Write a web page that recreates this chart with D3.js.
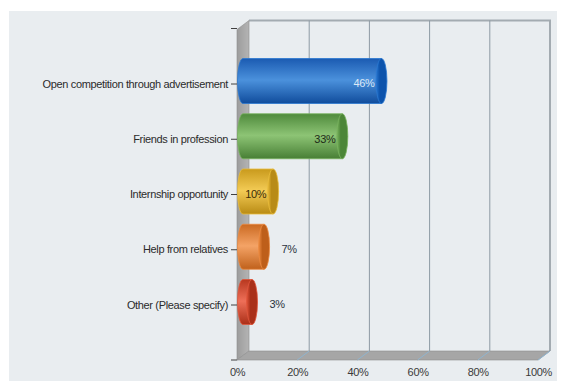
<!DOCTYPE html>
<html>
<head>
<meta charset="utf-8">
<script src="https://cdn.jsdelivr.net/npm/d3@7"></script>
<style>
  html, body { margin: 0; padding: 0; background: #ffffff; }
  svg { display: block; }
  text { font-family: "Liberation Sans", Arial, sans-serif; }
</style>
</head>
<body>
<svg id="chart" width="561" height="381"></svg>
<script>
// Survey answers: how respondents found their position
const categories = [
  "Open competition through advertisement",
  "Friends in profession",
  "Internship opportunity",
  "Help from relatives",
  "Other (Please specify)"
];
const percents = [46, 33, 10, 7, 3];
const tickValues = [0, 20, 40, 60, 80, 100];
const tickLabels = ["0%", "20%", "40%", "60%", "80%", "100%"];

// Cylinder palettes: edge dark, highlight, bottom dark, cap, rim, label colour
const palettes = [
  { top: "#1B5BB2", mid: "#4B91DC", bot: "#104C9C", cap: "#0C53AC", rim: "#2A77D0", label: "#DCE8F6" },
  { top: "#4F8A3C", mid: "#8DC475", bot: "#487F35", cap: "#4C8638", rim: "#79B35E", label: "#1E2A18" },
  { top: "#C99A1C", mid: "#F3CB55", bot: "#B98B14", cap: "#B88B17", rim: "#E9BB3A", label: "#3A2C08" },
  { top: "#CB6A22", mid: "#F4A366", bot: "#C0611B", cap: "#BE5F1A", rim: "#EC8A40", label: "#2A3340" },
  { top: "#B8381F", mid: "#EE6F58", bot: "#AA2F18", cap: "#A93019", rim: "#E0553B", label: "#2A3340" }
];

const svg = d3.select("#chart");

// Frame geometry (front plane of the 3D box and depth offset)
const frameL = 237, frameR = 538, frameT = 29.5, frameB = 360;
const depthX = 12, depthY = -9;

const x = d3.scaleLinear().domain([0, 100]).range([frameL, frameR]);
const y = d3.scalePoint().domain(categories).range([83.5, 304.5]);
const barH = 45;
const capRx = 5.5;

// Panel background
svg.append("rect")
  .attr("x", 9).attr("y", 11).attr("width", 548).attr("height", 370)
  .attr("fill", "#E9EDF0");

const defs = svg.append("defs");
palettes.forEach((p, i) => {
  const g = defs.append("linearGradient")
    .attr("id", "body" + i).attr("x1", 0).attr("y1", 0).attr("x2", 0).attr("y2", 1);
  g.append("stop").attr("offset", "0%").attr("stop-color", p.top);
  g.append("stop").attr("offset", "48%").attr("stop-color", p.mid);
  g.append("stop").attr("offset", "100%").attr("stop-color", p.bot);
  const c = defs.append("linearGradient")
    .attr("id", "cap" + i).attr("x1", 0).attr("y1", 0).attr("x2", 1).attr("y2", 0);
  c.append("stop").attr("offset", "0%").attr("stop-color", p.rim);
  c.append("stop").attr("offset", "35%").attr("stop-color", p.cap);
  c.append("stop").attr("offset", "100%").attr("stop-color", p.cap);
});
const wallGrad = defs.append("linearGradient")
  .attr("id", "wall").attr("x1", 0).attr("y1", 0).attr("x2", 1).attr("y2", 0);
wallGrad.append("stop").attr("offset", "0%").attr("stop-color", "#9C9C9C");
wallGrad.append("stop").attr("offset", "100%").attr("stop-color", "#B4B4B4");

// Back wall outline (top and right edges)
svg.append("path")
  .attr("d", `M${frameL + depthX},${frameT + depthY} H${frameR + depthX} V${frameB + depthY}`)
  .attr("fill", "none").attr("stroke", "#A3ABB1").attr("stroke-width", 2);

// Vertical gridlines on the back wall
svg.append("g").selectAll("line")
  .data(tickValues.slice(1, -1))
  .join("line")
  .attr("x1", d => x(d) + depthX).attr("x2", d => x(d) + depthX)
  .attr("y1", frameT + depthY).attr("y2", frameB + depthY)
  .attr("stroke", "#8D9AA4").attr("stroke-width", 1);

// Left side wall
svg.append("path")
  .attr("d", `M${frameL},${frameT} L${frameL + depthX},${frameT + depthY} V${frameB + depthY} L${frameL},${frameB} Z`)
  .attr("fill", "url(#wall)").attr("stroke", "#8F8F8F").attr("stroke-width", 0.6);

// Floor
svg.append("path")
  .attr("d", `M${frameL},${frameB} L${frameL + depthX},${frameB + depthY} H${frameR + depthX} L${frameR},${frameB} Z`)
  .attr("fill", "#A6A6A6").attr("stroke", "#8F8F8F").attr("stroke-width", 0.6);

// Gridline traces across the floor
svg.append("g").selectAll("line")
  .data(tickValues.slice(1))
  .join("line")
  .attr("x1", d => x(d)).attr("y1", frameB)
  .attr("x2", d => x(d) + depthX).attr("y2", frameB + depthY)
  .attr("stroke", "#8FB4CF").attr("stroke-width", 1);

// Category axis: tick dashes and labels
const yAxis = d3.axisLeft(y).tickSize(6).tickPadding(3);
const yg = svg.append("g").attr("transform", `translate(${frameL},0)`).call(yAxis);
yg.select(".domain").remove();
yg.selectAll(".tick line").attr("stroke", "#404040");
yg.selectAll(".tick text")
  .attr("fill", "#2B2B2B").attr("font-size", 11).style("letter-spacing", "-0.35px");

// Corner ticks at the top and bottom of the category axis
svg.append("g").selectAll("line")
  .data([frameT - 1, frameB])
  .join("line")
  .attr("x1", frameL - 6).attr("x2", frameL)
  .attr("y1", d => d).attr("y2", d => d)
  .attr("stroke", "#404040");

// Value axis labels
const xAxis = d3.axisBottom(x).tickValues(tickValues)
  .tickFormat((d, i) => tickLabels[i]).tickSize(0).tickPadding(8);
const xg = svg.append("g").attr("transform", `translate(0,${frameB})`).call(xAxis);
xg.select(".domain").remove();
xg.selectAll(".tick text")
  .attr("fill", "#3A3A3A").attr("font-size", 11).style("letter-spacing", "-0.35px");

// Cylinders, placed at mid-depth of the box
const midX = depthX / 2, midY = depthY / 2 + 2;
const bars = svg.append("g").selectAll("g")
  .data(categories.map((c, i) => ({ c, v: percents[i], i })))
  .join("g");

bars.each(function (d) {
  const g = d3.select(this);
  const cy = y(d.c) + midY;
  const x0 = x(0) + midX;
  const x1 = x(d.v) + midX;
  const r = barH / 2;
  // body with rounded left end
  g.append("path")
    .attr("d", `M${x1},${cy - r} H${x0} A${capRx},${r} 0 0 0 ${x0},${cy + r} H${x1} Z`)
    .attr("fill", `url(#body${d.i})`)
    .attr("stroke", palettes[d.i].rim).attr("stroke-width", 0.8);
  // end cap
  g.append("ellipse")
    .attr("cx", x1).attr("cy", cy).attr("rx", capRx).attr("ry", r)
    .attr("fill", `url(#cap${d.i})`)
    .attr("stroke", palettes[d.i].rim).attr("stroke-width", 0.8);
  // value label
  const inside = d.v >= 10;
  g.append("text")
    .attr("x", inside ? x1 - 7 : x1 + capRx + 12)
    .attr("y", cy + 2.5)
    .attr("dy", "0.35em")
    .attr("text-anchor", inside ? "end" : "start")
    .attr("font-size", 11)
    .style("letter-spacing", "-0.35px")
    .attr("fill", palettes[d.i].label)
    .text(d.v + "%");
});
</script>
</body>
</html>
